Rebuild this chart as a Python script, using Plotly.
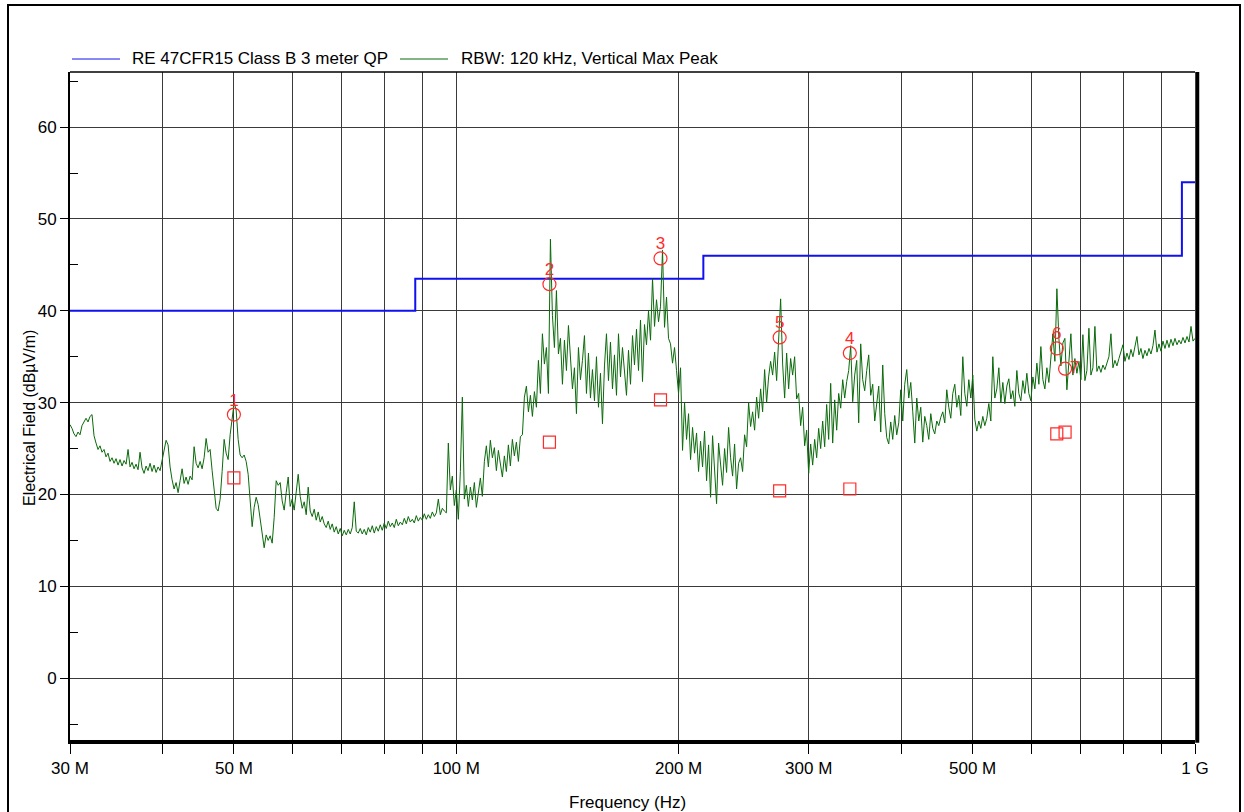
import numpy as np
import plotly.graph_objects as go

# Radiated emission sweep, 30 MHz - 1 GHz (levels in dBµV/m)
sweep_start_hz = 30e6
sweep_stop_hz = 1e9
peak_levels = [
    27.6, 27.2, 26.6, 26.3, 26.8, 26.5, 27.5, 27.9, 28.3, 27.9,
    28.5, 28.7, 26.4, 25.6, 24.9, 25.3, 24.6, 24.9, 24.1, 24.5,
    23.6, 24.0, 23.4, 23.9, 23.2, 23.8, 23.1, 23.7, 23.3, 24.9,
    23.0, 23.5, 22.8, 23.3, 22.7, 24.6, 22.9, 22.3, 23.1, 22.6,
    23.4, 22.5, 23.2, 22.4, 23.0, 22.6, 23.6, 24.8, 25.9, 25.4,
    23.0, 21.6, 20.6, 21.3, 20.2, 21.5, 22.8, 21.2, 21.9, 21.1,
    22.0, 21.6, 25.2, 23.4, 22.9, 23.6, 22.8, 24.0, 26.1, 24.6,
    24.9, 22.6, 20.4, 18.5, 18.2, 19.5, 22.5, 26.0, 24.5, 23.8,
    26.5, 28.0, 30.0, 29.2, 26.0, 24.3, 24.0, 24.3, 23.6, 22.2,
    19.5, 16.5, 18.6, 19.7, 18.9, 17.3, 15.5, 14.2, 15.6, 15.0,
    15.5, 14.7, 17.5, 21.5, 21.0, 21.3, 19.3, 18.3, 20.2, 21.9,
    18.7, 19.5, 18.3, 20.7, 22.2, 19.8, 18.5, 19.2, 17.8, 20.8,
    18.2, 17.6, 18.4, 17.2, 18.1, 17.0, 17.6, 16.8, 16.4, 17.1,
    16.2, 16.8, 15.9, 16.5, 15.7, 16.3, 15.5, 16.1, 15.6, 16.2,
    15.7, 16.4, 19.2, 16.0, 15.8, 16.3, 15.7, 16.2, 15.6, 16.4,
    15.9, 16.6, 15.8, 16.5, 16.0, 16.7, 16.1, 16.9, 16.3, 17.1,
    16.5, 16.9, 16.4, 17.3, 16.6, 17.0, 16.7, 17.4, 16.8, 17.6,
    17.0, 17.3, 16.9, 17.7, 17.1, 17.5, 17.2, 17.9, 17.3, 17.8,
    17.4, 18.1, 17.6, 18.0, 19.5, 17.8, 18.5, 18.2, 18.0, 25.6,
    20.5, 22.0, 18.8, 20.5, 17.3, 22.5, 30.6, 19.5, 21.0, 18.7,
    20.8, 19.4, 21.3, 18.6, 20.3, 21.8, 19.8, 23.6, 25.3, 23.0,
    25.9, 24.0, 25.1, 22.6, 24.8, 23.2, 21.9, 24.2, 22.5, 25.4,
    23.1, 26.0, 24.2, 25.7, 23.6, 26.3, 26.5, 30.6, 31.8, 29.0,
    30.8, 28.5, 31.2, 29.5, 34.6, 31.0, 37.5, 34.2, 36.0, 31.0,
    47.8, 39.5, 36.0, 42.2, 35.3, 37.0, 32.0, 36.8, 33.5, 38.4,
    34.2, 31.5, 33.8, 28.8, 36.0, 32.5, 34.6, 37.3, 31.0, 35.4,
    30.5, 33.6, 30.2, 35.0, 29.5, 33.2, 27.7, 34.0, 37.5, 32.4,
    36.6, 31.5, 35.2, 30.8, 37.5, 32.8, 36.0, 33.2, 30.8, 35.7,
    32.0, 37.3, 34.1, 38.0, 33.5, 39.0, 32.3, 38.5, 36.3, 40.0,
    36.8, 43.5, 38.3, 41.2, 38.8, 40.5, 46.6, 38.2, 41.5, 37.0,
    36.4, 34.3, 36.0, 33.5, 31.0, 33.8, 24.8, 30.0, 26.0, 28.8,
    23.8, 27.3, 24.5, 26.7, 22.5, 25.8, 23.0, 26.9, 21.5, 25.4,
    19.7, 26.4, 22.6, 19.0, 25.6, 23.3, 21.0, 25.0, 22.4, 27.3,
    24.0, 22.0, 25.5, 20.6, 23.4, 24.0, 22.5, 26.5, 25.2, 30.0,
    27.4, 29.0, 27.0, 30.6, 28.3, 31.5, 29.0, 33.6, 30.0, 32.8,
    34.5, 33.0, 35.5, 32.4, 36.8, 41.3, 34.2, 30.5, 35.4, 31.5,
    34.8, 33.0, 35.0, 30.4, 31.0, 27.5, 29.5, 25.3, 27.0, 22.3,
    25.5, 23.2, 26.0, 24.0, 27.2, 25.0, 28.0, 25.2, 29.8, 26.0,
    32.1, 25.6, 30.3, 27.0, 31.0, 29.4, 32.5, 30.5, 32.3, 33.5,
    36.2, 30.1, 33.0, 34.6, 27.8, 36.4, 32.5, 31.3, 33.5, 35.2,
    30.8, 32.0, 28.0, 30.2, 31.8, 26.8, 34.1, 28.8, 26.2, 25.5,
    27.9, 26.0, 28.6, 26.5, 27.8, 31.4, 28.0, 32.0, 33.6, 30.5,
    32.2, 29.0, 25.6, 30.5, 28.0, 29.5, 25.7, 28.5, 27.5, 26.0,
    28.8, 27.2, 26.6, 28.0, 27.5, 28.4, 29.0, 27.8, 31.4, 29.5,
    28.3, 31.0, 32.0, 29.5, 30.8, 28.6, 35.0, 31.0, 29.6, 32.5,
    30.5, 33.0, 28.2, 26.9, 28.0, 27.2, 28.5, 27.5, 28.3, 29.9,
    28.0, 35.0, 30.5, 31.5, 33.8, 30.0, 32.2, 29.9, 31.8, 32.6,
    30.4, 31.3, 29.6, 33.5, 31.0, 30.2, 32.4, 31.0, 33.2, 31.0,
    30.2, 32.8, 31.5, 34.3, 32.0, 36.1, 32.5, 31.5, 33.8, 32.2,
    35.4, 37.5, 34.5, 42.4, 37.0, 34.0, 36.5, 37.0, 31.4, 34.0,
    37.5, 33.0, 34.8, 33.2, 34.5, 32.5, 37.4, 32.4, 33.5, 38.1,
    33.0, 33.8, 38.3, 33.4, 34.0, 33.3, 34.1, 33.6, 34.2, 35.0,
    37.5, 33.8, 34.6, 34.0, 34.8, 35.6, 36.3, 34.5, 35.4, 34.7,
    35.8, 35.0, 36.0, 37.2, 35.2, 35.9, 34.8, 35.7, 35.1, 35.9,
    35.3, 36.2, 37.9, 35.5, 36.4, 35.6, 36.7, 35.9, 36.8, 36.0,
    36.9, 36.2, 37.0, 36.3, 36.8, 36.4, 37.1, 36.5, 37.2, 36.6,
    38.3, 36.7, 37.0,
]
# sweep points are spaced evenly on the log-frequency display
sweep_freqs_hz = np.geomspace(sweep_start_hz, sweep_stop_hz, len(peak_levels))

# FCC Part 15 Class B, 3 m, quasi-peak limit
limit_freqs_hz = [30e6, 88e6, 216e6, 960e6, 1000e6]
limit_levels = [40.0, 43.5, 46.0, 54.0, 54.0]

# Marked peaks: peak reading and quasi-peak reading
marker_labels = ["1", "2", "3", "5", "4", "6", "7"]
marker_freqs_hz = [50.0e6, 133.7e6, 189.0e6, 274.0e6, 341.0e6, 650.0e6, 667.0e6]
marker_peak = [28.7, 42.9, 45.7, 37.1, 35.4, 35.9, 33.7]
marker_qp = [21.8, 25.7, 30.3, 20.4, 20.6, 26.6, 26.8]
label_positions = ["top center"] * 6 + ["middle right"]

# Axis ticks
x_tick_vals = [30e6, 40e6, 50e6, 60e6, 70e6, 80e6, 90e6, 100e6, 200e6, 300e6,
               400e6, 500e6, 600e6, 700e6, 800e6, 900e6, 1000e6]
x_tick_text = ["30 M", "", "50 M", "", "", "", "", "100 M", "200 M", "300 M",
               "", "500 M", "", "", "", "", "1 G"]
y_tick_vals = [0, 10, 20, 30, 40, 50, 60]
y_minor_vals = [-5, 5, 15, 25, 35, 45, 55, 65]

W, H = 1244, 812
L, R, T, B = 70, 1195, 72, 740
FONT = "Liberation Sans, Arial, sans-serif"
BLUE = "#1010f0"
GREEN = "#0a6a0a"
RED = "#ff2a2a"


def px(x):
    return (x - L) / (R - L)


def py(y):
    return (B - y) / (B - T)


fig = go.Figure()
fig.add_trace(go.Scatter(
    x=limit_freqs_hz, y=limit_levels, mode="lines", line_shape="hv",
    line=dict(color=BLUE, width=2), showlegend=False,
))
fig.add_trace(go.Scatter(
    x=sweep_freqs_hz, y=peak_levels, mode="lines",
    line=dict(color=GREEN, width=1), showlegend=False,
))
fig.add_trace(go.Scatter(
    x=marker_freqs_hz, y=marker_qp, mode="markers",
    marker=dict(symbol="square-open", size=12, color=RED, line=dict(width=1.2)),
    showlegend=False,
))
fig.add_trace(go.Scatter(
    x=marker_freqs_hz, y=marker_peak, mode="markers",
    marker=dict(symbol="circle-open", size=13, color=RED, line=dict(width=1.2)),
    showlegend=False,
))
# marker numbers, set just clear of the circles
fig.add_trace(go.Scatter(
    x=marker_freqs_hz, y=marker_peak, mode="markers+text",
    text=marker_labels, textposition=label_positions,
    textfont=dict(family=FONT, size=17, color=RED),
    marker=dict(size=6, opacity=0), showlegend=False,
))

shapes = [
    # top and right plot edges
    dict(type="line", xref="paper", yref="paper", x0=0, x1=1, y0=1, y1=1,
         line=dict(color="black", width=1.5)),
    dict(type="line", xref="paper", yref="paper", x0=1.002, x1=1.002, y0=-0.004, y1=1,
         line=dict(color="black", width=4)),
    # outer frame
    dict(type="rect", xref="paper", yref="paper", x0=px(8), x1=px(1240),
         y0=py(830), y1=py(5), line=dict(color="black", width=2)),
    # legend swatches
    dict(type="line", xref="paper", yref="paper", x0=px(72), x1=px(120),
         y0=py(59), y1=py(59), line=dict(color=BLUE, width=1)),
    dict(type="line", xref="paper", yref="paper", x0=px(400), x1=px(448),
         y0=py(59), y1=py(59), line=dict(color=GREEN, width=1)),
]

annotations = [
    dict(text="RE 47CFR15 Class B 3 meter QP", xref="paper", yref="paper",
         x=px(130), y=py(59), xanchor="left", yanchor="middle", showarrow=False,
         font=dict(family=FONT, size=17, color="black")),
    dict(text="RBW: 120 kHz, Vertical Max Peak", xref="paper", yref="paper",
         x=px(459), y=py(59), xanchor="left", yanchor="middle", showarrow=False,
         font=dict(family=FONT, size=17, color="black")),
    dict(text="Electrical Field (dBµV/m)", xref="paper", yref="paper",
         x=px(29), y=py(418), xanchor="center", yanchor="middle", textangle=-90,
         showarrow=False, font=dict(family=FONT, size=16, color="black")),
    dict(text="Frequency (Hz)", xref="paper", yref="paper",
         x=px(627), y=py(803), xanchor="center", yanchor="middle",
         showarrow=False, font=dict(family=FONT, size=17, color="black")),
]

fig.update_layout(
    width=W, height=H,
    margin=dict(l=L, r=W - R, t=T, b=H - B, pad=0),
    paper_bgcolor="white", plot_bgcolor="white",
    font=dict(family=FONT, size=17, color="black"),
    shapes=shapes, annotations=annotations, showlegend=False,
)
fig.update_xaxes(
    type="log", range=[np.log10(sweep_start_hz), np.log10(sweep_stop_hz)],
    tickmode="array", tickvals=x_tick_vals, ticktext=x_tick_text,
    ticks="outside", ticklen=10, tickwidth=1, tickcolor="black",
    showgrid=True, gridcolor="#3a3a3a", gridwidth=1,
    showline=True, linecolor="black", linewidth=4,
    tickfont=dict(family=FONT, size=17, color="black"), zeroline=False,
)
fig.update_yaxes(
    range=[-6.73, 66.0], tickmode="array", tickvals=y_tick_vals,
    ticks="outside", ticklen=8, tickwidth=1, tickcolor="black",
    minor=dict(tickmode="array", tickvals=y_minor_vals, ticks="inside",
               ticklen=8, tickcolor="black", showgrid=False),
    showgrid=True, gridcolor="#3a3a3a", gridwidth=1,
    showline=True, linecolor="black", linewidth=2,
    tickfont=dict(family=FONT, size=17, color="black"), zeroline=False,
)

fig.write_html("out.html")
